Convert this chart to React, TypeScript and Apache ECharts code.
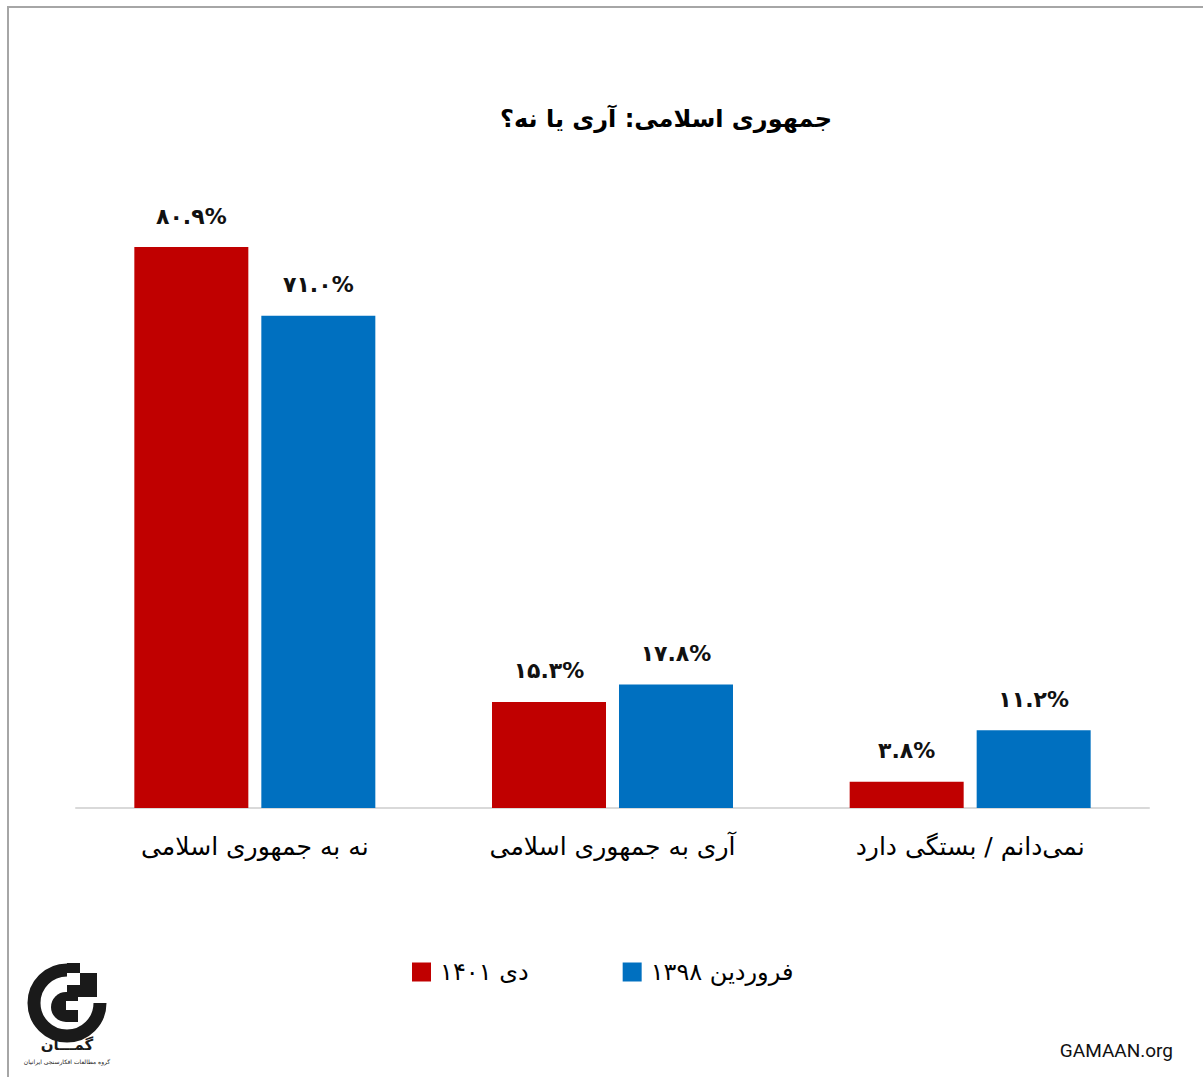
import React, { useEffect, useRef } from "react";
import * as echarts from "echarts";

const titleText = "جمهوری اسلامی: آری یا نه؟";
const categories = ["نه به جمهوری اسلامی", "آری به جمهوری اسلامی", "نمی‌دانم / بستگی دارد"];
const seriesNames = ["دی ۱۴۰۱", "فروردین ۱۳۹۸"];
const valuesDey1401 = [80.9, 15.3, 3.8];
const valuesFarvardin1398 = [71.0, 17.8, 11.2];
const colors = ["#c00000", "#0070c0"];
const sourceText = "GAMAAN.org";
const logoName = "گمـــان";
const logoSub = "گروه مطالعات افکارسنجی ایرانیان";

const FA = "'DejaVu Sans', sans-serif";

function toPersianDigits(s: string): string {
  const d = "۰۱۲۳۴۵۶۷۸۹";
  return s.replace(/[0-9]/g, (c) => d[Number(c)]);
}

export default function App() {
  const ref = useRef<HTMLDivElement>(null);
  useEffect(() => {
    if (!ref.current) return;
    const chart = echarts.init(ref.current, null, { renderer: "svg" });
    const label = {
      show: true,
      position: "top",
      distance: 20,
      fontSize: 22,
      fontWeight: "bold",
      color: "#111",
      fontFamily: FA,
      formatter: (p: any) => toPersianDigits(Number(p.value).toFixed(1)) + "%",
    };
    chart.setOption({
      animation: false,
      backgroundColor: "#fff",
      title: {
        text: titleText,
        left: 661,
        textAlign: "center",
        top: 102,
        textStyle: { fontSize: 24, fontWeight: "bold", color: "#000", fontFamily: FA },
      },
      grid: { left: 76, right: 54, top: 184, bottom: 269 },
      xAxis: {
        type: "category",
        data: categories,
        axisLine: { lineStyle: { color: "#d9d9d9", width: 2 } },
        axisTick: { show: false },
        axisLabel: { fontSize: 25, color: "#000", margin: 26, fontFamily: FA },
      },
      yAxis: { type: "value", min: 0, max: 90, show: false, splitLine: { show: false } },
      legend: {
        left: 412,
        top: 960,
        padding: 0,
        itemWidth: 19,
        itemHeight: 19,
        itemGap: 94,
        icon: "rect",
        textStyle: { fontSize: 24, color: "#000", fontFamily: FA, padding: [0, 0, 0, 4] },
        data: seriesNames,
      },
      series: [
        {
          name: seriesNames[0],
          type: "bar",
          data: valuesDey1401,
          barWidth: 114,
          barGap: "11.4%",
          itemStyle: { color: colors[0] },
          label,
        },
        {
          name: seriesNames[1],
          type: "bar",
          data: valuesFarvardin1398,
          barWidth: 114,
          barGap: "11.4%",
          itemStyle: { color: colors[1] },
          label,
        },
      ],
      graphic: [
        { type: "line", shape: { x1: 8, y1: 7, x2: 1203, y2: 7 }, style: { stroke: "#a6a6a6", lineWidth: 2 } },
        { type: "line", shape: { x1: 8, y1: 6, x2: 8, y2: 1077 }, style: { stroke: "#a6a6a6", lineWidth: 2 } },
        {
          type: "text",
          right: 30,
          top: 1041,
          style: { text: sourceText, fontSize: 19, fill: "#111", fontFamily: "Roboto, sans-serif" },
        },
        // logo
        {
          type: "arc",
          shape: { cx: 67, cy: 1003, r: 33, startAngle: 0, endAngle: Math.PI * 1.5, clockwise: true },
          style: { stroke: "#1a1a1a", lineWidth: 13, fill: "none" },
        },
        {
          type: "sector",
          shape: { cx: 66, cy: 1007, r: 15, r0: 0, startAngle: Math.PI * 0.5, endAngle: Math.PI * 1.5, clockwise: true },
          style: { fill: "#1a1a1a" },
        },
        { type: "rect", shape: { x: 66, y: 992, width: 12, height: 30 }, style: { fill: "#1a1a1a" } },
        { type: "rect", shape: { x: 66, y: 1001, width: 14, height: 9 }, style: { fill: "#ffffff" } },
        { type: "rect", shape: { x: 67, y: 963, width: 13, height: 10 }, style: { fill: "#1a1a1a" } },
        { type: "rect", shape: { x: 80, y: 973, width: 17, height: 12 }, style: { fill: "#1a1a1a" } },
        { type: "rect", shape: { x: 67, y: 985, width: 30, height: 12 }, style: { fill: "#1a1a1a" } },
        {
          type: "text",
          x: 67,
          y: 1037,
          style: { text: logoName, fontSize: 15, fill: "#1a1a1a", fontFamily: FA, align: "center", fontWeight: "bold" },
        },
        {
          type: "text",
          x: 67,
          y: 1058,
          style: { text: logoSub, fontSize: 6, fill: "#1a1a1a", fontFamily: FA, align: "center" },
        },
      ],
    });
    return () => chart.dispose();
  }, []);
  return (
    <div
      ref={ref}
      style={{ position: "fixed", left: 0, top: 0, width: 1203, height: 1077 }}
    />
  );
}
